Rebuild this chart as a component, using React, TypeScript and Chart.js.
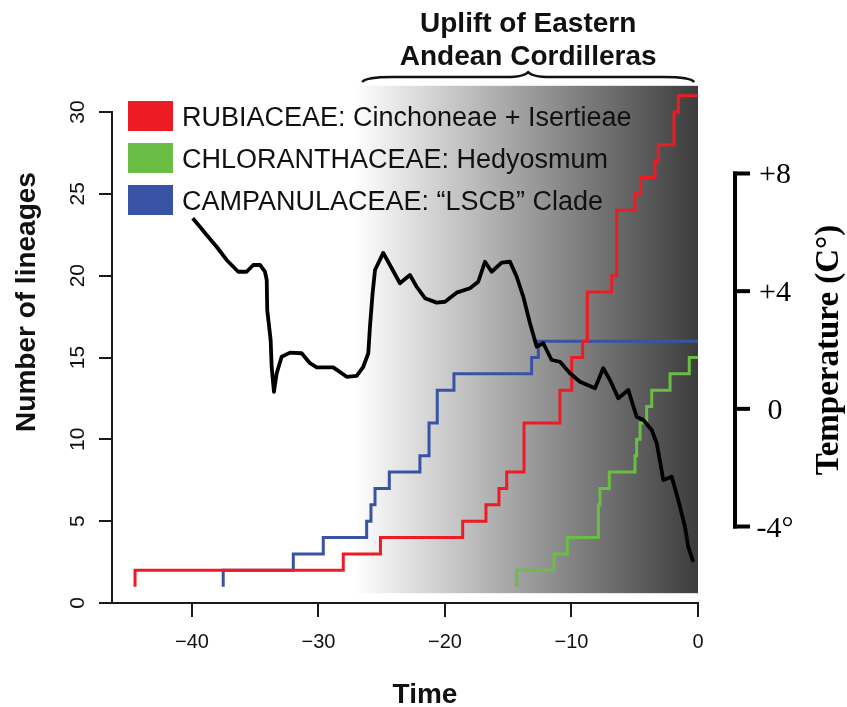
import React, { useEffect, useRef } from 'react';
import { Chart, registerables } from 'chart.js';

Chart.register(...registerables);

// ---------- data ----------
const xTickValues = [-40, -30, -20, -10, 0];
const yTickValues = [0, 5, 10, 15, 20, 25, 30];
const tempTickValues = [8, 4, 0, -4];
const tempTickLabels = ['+8', '+4', '0', '-4°'];

const seriesLabels = [
  'RUBIACEAE: Cinchoneae + Isertieae',
  'CHLORANTHACEAE: Hedyosmum',
  'CAMPANULACEAE: “LSCB” Clade',
];
const seriesColors = ['#ED1C24', '#6ABD45', '#3953A4'];

const rubiaceaeTimes = [-44.5, -44.5, -28.04, -25.1, -18.6, -16.76, -15.73, -15.12, -13.75, -10.91, -9.98, -9.12, -8.75, -6.82, -6.43, -4.98, -4.53, -3.4, -3.14, -1.9, -1.56, 0];
const rubiaceaeLineages = [1, 2, 3, 4, 5, 6, 7, 8, 11, 13, 15, 16, 19, 20, 24, 25, 26, 27, 28, 30, 31, 31];

const chloranthaceaeTimes = [-14.33, -14.33, -11.38, -10.33, -7.88, -7.75, -7.01, -4.98, -4.85, -4.58, -4.06, -3.66, -2.21, -0.69, 0];
const chloranthaceaeLineages = [1, 2, 3, 4, 6, 7, 8, 9, 10, 11, 12, 13, 14, 15, 15];

const campanulaceaeTimes = [-37.53, -37.53, -31.99, -29.62, -26.19, -25.85, -25.53, -24.4, -21.98, -21.26, -20.61, -19.29, -13.15, -12.62, 0];
const campanulaceaeLineages = [1, 2, 3, 4, 5, 6, 7, 8, 9, 11, 13, 14, 15, 16, 16];

const temperatureTimes = [
  -39.94, -39.37, -38.84, -38.05, -37.26, -36.34, -35.68, -35.15, -34.62, -34.23,
  -34.09, -34.05, -33.78, -33.7, -33.52, -33.3, -32.91, -32.25, -31.33, -30.67,
  -30.14, -28.83, -27.77, -26.98, -26.46, -26.06, -25.93, -25.72, -25.53, -24.88,
  -24.21, -23.56, -22.77, -22.24, -21.58, -20.66, -20.0, -19.08, -18.02, -17.37,
  -16.84, -16.31, -15.52, -14.86, -14.33, -13.81, -13.28, -12.75, -12.23, -11.57,
  -10.91, -10.12, -9.33, -8.14, -7.49, -6.96, -6.3, -5.51, -4.85, -4.32,
  -3.66, -3.26, -2.74, -2.08, -1.56, -1.03, -0.77, -0.37,
];
const temperatureValues = [
  6.48, 6.19, 5.91, 5.51, 5.06, 4.66, 4.66, 4.89, 4.89, 4.66,
  4.38, 3.36, 2.34, 1.43, 0.58, 1.21, 1.77, 1.91, 1.89, 1.55,
  1.41, 1.41, 1.09, 1.12, 1.43, 1.89, 2.79, 3.93, 4.72, 5.3,
  4.78, 4.27, 4.55, 4.15, 3.76, 3.61, 3.64, 3.95, 4.1, 4.32,
  5.0, 4.66, 4.97, 5.0, 4.49, 3.81, 2.91, 2.11, 2.23, 1.66,
  1.6, 1.21, 0.92, 0.7, 1.38, 0.98, 0.36, 0.64, -0.27, -0.38,
  -0.72, -1.17, -2.42, -2.31, -3.1, -4.01, -4.69, -5.2,
];

// Andean uplift period (shaded band and brace)
const upliftStart = -27.2;
const upliftEnd = 0;
const braceStart = -26.55;
const braceEnd = -0.3;
const bandTop = 31.6;
const bandBottom = 0.6;

const headingLines = ['Uplift of Eastern', 'Andean Cordilleras'];
const xTitle = 'Time';
const yTitle = 'Number of lineages';
const tempTitle = 'Temperature (C°)';

const SANS = '"Liberation Sans", Arial, Helvetica, sans-serif';
const SERIF = '"Liberation Serif", "Times New Roman", Times, serif';

const toPoints = (xs: number[], ys: number[]) => xs.map((x, i) => ({ x, y: ys[i] }));

const decorPlugin = {
  id: 'decor',
  beforeDatasetsDraw(chart: any) {
    const { ctx, scales } = chart;
    const xs = scales.x;
    const ys = scales.y;
    const x0 = xs.getPixelForValue(upliftStart);
    const x1 = xs.getPixelForValue(upliftEnd);
    const y0 = ys.getPixelForValue(bandTop);
    const y1 = ys.getPixelForValue(bandBottom);
    const g = ctx.createLinearGradient(x0, 0, x1, 0);
    g.addColorStop(0, 'rgb(255,255,255)');
    g.addColorStop(1, 'rgb(60,60,60)');
    ctx.save();
    ctx.fillStyle = g;
    ctx.fillRect(x0, y0, x1 - x0, y1 - y0);
    ctx.restore();
  },
  afterDraw(chart: any) {
    const { ctx, chartArea, scales } = chart;
    const xs = scales.x;
    const ys = scales.y;
    const y2 = scales.y2;
    const { left, top, right } = chartArea;
    ctx.save();
    ctx.fillStyle = '#111';
    ctx.strokeStyle = '#111';

    // y tick labels (rotated, R style)
    ctx.font = `21px ${SANS}`;
    ctx.textAlign = 'center';
    ctx.textBaseline = 'alphabetic';
    ys.ticks.forEach((t: any) => {
      const py = ys.getPixelForValue(t.value);
      ctx.save();
      ctx.translate(left - 28, py);
      ctx.rotate(-Math.PI / 2);
      ctx.fillText(String(t.value), 0, 0);
      ctx.restore();
    });

    // axis titles
    ctx.font = `bold 28px ${SANS}`;
    ctx.save();
    ctx.translate(35, top + 190);
    ctx.rotate(-Math.PI / 2);
    ctx.fillText(yTitle, 0, 0);
    ctx.restore();
    ctx.fillText(xTitle, left + 313, 703);

    // legend
    const rowsTop = [top - 11, top + 31, top + 73];
    ctx.font = `27px ${SANS}`;
    ctx.textAlign = 'left';
    seriesLabels.forEach((lab, i) => {
      ctx.fillStyle = seriesColors[i];
      ctx.fillRect(left + 16, rowsTop[i], 45, 30);
      ctx.fillStyle = '#111';
      ctx.fillText(lab, left + 70, rowsTop[i] + 25);
    });

    // heading + brace
    const bx0 = xs.getPixelForValue(braceStart);
    const bx1 = xs.getPixelForValue(braceEnd);
    const bm = (bx0 + bx1) / 2;
    ctx.textAlign = 'center';
    ctx.font = `bold 28px ${SANS}`;
    ctx.fillText(headingLines[0], bm, top - 80);
    ctx.fillText(headingLines[1], bm, top - 47);
    const yEnd = top - 30;
    const yBody = top - 35;
    const yTip = top - 40;
    ctx.lineWidth = 2.5;
    ctx.lineJoin = 'round';
    ctx.beginPath();
    ctx.moveTo(bx0, yEnd);
    ctx.quadraticCurveTo(bx0 + 4, yBody, bx0 + 30, yBody);
    ctx.lineTo(bm - 22, yBody);
    ctx.quadraticCurveTo(bm - 4, yBody, bm, yTip);
    ctx.quadraticCurveTo(bm + 4, yBody, bm + 22, yBody);
    ctx.lineTo(bx1 - 30, yBody);
    ctx.quadraticCurveTo(bx1 - 4, yBody, bx1, yEnd);
    ctx.stroke();

    // temperature axis
    const ax = right + 37;
    const tTop = y2.getPixelForValue(tempTickValues[0]);
    const tBot = y2.getPixelForValue(tempTickValues[tempTickValues.length - 1]);
    ctx.strokeStyle = '#000';
    ctx.lineWidth = 4;
    ctx.lineCap = 'butt';
    ctx.beginPath();
    ctx.moveTo(ax, tTop - 2);
    ctx.lineTo(ax, tBot + 2);
    ctx.stroke();
    ctx.font = `30px ${SERIF}`;
    ctx.fillStyle = '#000';
    tempTickValues.forEach((v, i) => {
      const py = y2.getPixelForValue(v);
      ctx.beginPath();
      ctx.moveTo(ax - 2, py);
      ctx.lineTo(ax + 15, py);
      ctx.stroke();
      ctx.fillText(tempTickLabels[i], ax + 40, py + 10);
    });
    ctx.font = `bold 33px ${SERIF}`;
    ctx.save();
    ctx.translate(838, (tTop + tBot) / 2);
    ctx.rotate(-Math.PI / 2);
    ctx.fillText(tempTitle, 0, 0);
    ctx.restore();

    ctx.restore();
  },
};

export default function App() {
  const ref = useRef<HTMLCanvasElement>(null);
  useEffect(() => {
    const stepStyle = (color: string) => ({
      borderColor: color,
      backgroundColor: color,
      borderWidth: 3,
      pointRadius: 0,
      stepped: 'before' as const,
      clip: false as const,
      yAxisID: 'y',
    });
    const chart = new Chart(ref.current as HTMLCanvasElement, {
      type: 'line',
      data: {
        datasets: [
          {
            label: 'Temperature',
            data: toPoints(temperatureTimes, temperatureValues),
            borderColor: '#000',
            borderWidth: 3.8,
            pointRadius: 0,
            tension: 0,
            borderJoinStyle: 'round',
            clip: false,
            yAxisID: 'y2',
            order: 0,
          } as any,
          { label: seriesLabels[0], data: toPoints(rubiaceaeTimes, rubiaceaeLineages), ...stepStyle(seriesColors[0]), order: 1 } as any,
          { label: seriesLabels[1], data: toPoints(chloranthaceaeTimes, chloranthaceaeLineages), ...stepStyle(seriesColors[1]), order: 2 } as any,
          { label: seriesLabels[2], data: toPoints(campanulaceaeTimes, campanulaceaeLineages), ...stepStyle(seriesColors[2]), order: 3 } as any,
        ],
      },
      options: {
        responsive: false,
        animation: false,
        devicePixelRatio: 1,
        events: [],
        layout: { padding: { top: 112, right: 149, bottom: 0, left: 0 } },
        plugins: { legend: { display: false }, tooltip: { enabled: false }, title: { display: false } },
        scales: {
          x: {
            type: 'linear',
            min: -46.32,
            max: 0,
            afterBuildTicks: (s: any) => { s.ticks = xTickValues.map((v) => ({ value: v })); },
            afterFit: (s: any) => { s.height = 104; },
            ticks: {
              font: { family: SANS, size: 20 },
              color: '#111',
              padding: 13,
              maxRotation: 0,
              callback: (v: any) => (Number(v) < 0 ? '\u2212' + Math.abs(Number(v)) : String(v)),
            },
            grid: { display: true, drawOnChartArea: false, drawTicks: true, tickLength: 14, color: '#1a1a1a', lineWidth: 2 },
            border: { display: true, color: '#1a1a1a', width: 2 },
          },
          y: {
            type: 'linear',
            min: 0,
            max: 30,
            afterBuildTicks: (s: any) => { s.ticks = yTickValues.map((v) => ({ value: v })); },
            afterFit: (s: any) => { s.width = 112; },
            ticks: { display: false },
            grid: { display: true, drawOnChartArea: false, drawTicks: true, tickLength: 13, color: '#1a1a1a', lineWidth: 2 },
            border: { display: true, color: '#1a1a1a', width: 2 },
          },
          y2: {
            type: 'linear',
            display: false,
            min: -6.6,
            max: 10.09,
          },
        },
      } as any,
      plugins: [decorPlugin],
    });
    return () => chart.destroy();
  }, []);
  return (
    <div style={{ position: 'fixed', left: 0, top: 0, width: 847, height: 707, background: '#fff' }}>
      <canvas ref={ref} width={847} height={707} style={{ display: 'block', width: 847, height: 707 }} />
    </div>
  );
}
